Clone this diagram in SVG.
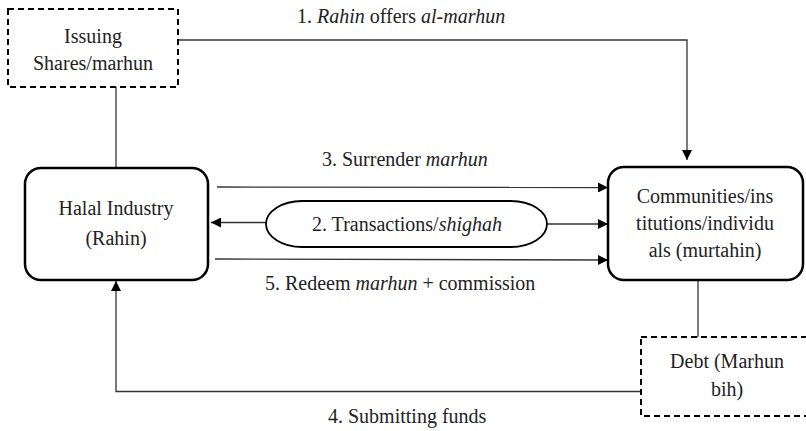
<svg xmlns="http://www.w3.org/2000/svg" width="806" height="431" viewBox="0 0 806 431">
<style>
.t{font-size:20px;fill:#222}
.c{text-anchor:middle}
.box{fill:#fff;stroke:#000;stroke-width:2.5}
.dash{fill:#fff;stroke:#000;stroke-width:2;stroke-dasharray:6,4}
.ln{fill:none;stroke:#333;stroke-width:1.3}
</style>
<defs>
<marker id="ah" viewBox="0 0 10 10" refX="10" refY="5" markerWidth="10" markerHeight="10" markerUnits="userSpaceOnUse" orient="auto">
<path d="M0,0 L10,5 L0,10 Z" fill="#000"/>
</marker>
</defs>
<g font-family="Liberation Serif, DejaVu Serif, Times, serif">
<g id="connectors">
<polyline class="ln" points="178,40 687,40 687,160" marker-end="url(#ah)"/>
<line class="ln" x1="116" y1="87" x2="116" y2="168"/>
<line class="ln" x1="217" y1="187" x2="608" y2="187.5" marker-end="url(#ah)"/>
<line class="ln" x1="266" y1="222.5" x2="211" y2="222.5" marker-end="url(#ah)"/>
<line class="ln" x1="547" y1="224" x2="608" y2="224" marker-end="url(#ah)"/>
<line class="ln" x1="215" y1="259" x2="608" y2="260" marker-end="url(#ah)"/>
<line class="ln" x1="698" y1="280" x2="698" y2="337"/>
<polyline class="ln" points="641,391.5 116,391.5 116,281" marker-end="url(#ah)"/>
<text class="t" x="297" y="23">1. <tspan font-style="italic">Rahin</tspan> offers <tspan font-style="italic">al-marhun</tspan></text>
<text class="t" x="322" y="166">3. Surrender <tspan font-style="italic">marhun</tspan></text>
<text class="t" x="265" y="290">5. Redeem <tspan font-style="italic">marhun</tspan> + commission</text>
<text class="t" x="328" y="423">4. Submitting funds</text>
</g>
<g id="issuing">
<rect class="dash" x="8" y="9" width="170" height="78"/>
<text class="t c" x="93" y="43">Issuing</text>
<text class="t c" x="93" y="70">Shares/marhun</text>
</g>
<g id="halal">
<rect class="box" x="25" y="168" width="183" height="112" rx="16"/>
<text class="t c" x="116" y="215">Halal Industry</text>
<text class="t c" x="116" y="245">(Rahin)</text>
</g>
<g id="transactions">
<rect x="266" y="201" width="281" height="46" rx="36" ry="23" fill="#fff" stroke="#000" stroke-width="1.8"/>
<text class="t c" x="407" y="231">2. Transactions/<tspan font-style="italic">shighah</tspan></text>
</g>
<g id="communities">
<rect class="box" x="608" y="167" width="195" height="113" rx="16"/>
<text class="t c" x="705" y="203">Communities/ins</text>
<text class="t c" x="705" y="230">titutions/individu</text>
<text class="t c" x="705" y="257">als (murtahin)</text>
</g>
<g id="debt">
<rect class="dash" x="641" y="337" width="175" height="79"/>
<text class="t c" x="727" y="368">Debt (Marhun</text>
<text class="t c" x="727" y="396">bih)</text>
</g>
</g>
</svg>
